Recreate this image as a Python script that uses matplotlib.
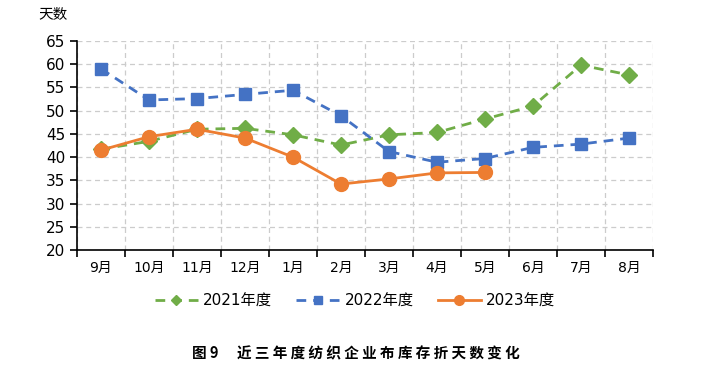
import matplotlib.pyplot as plt

plt.rcParams['font.family'] = ['DejaVu Sans', 'Noto Sans CJK SC']

months = ['9月', '10月', '11月', '12月', '1月', '2月', '3月', '4月', '5月', '6月', '7月', '8月']
y2021 = [41.7, 43.4, 46.0, 46.2, 44.8, 42.6, 44.8, 45.3, 48.2, 51.0, 59.8, 57.7]
y2022 = [59.0, 52.3, 52.6, 53.5, 54.4, 48.9, 41.2, 38.9, 39.7, 42.1, 42.8, 44.1]
y2023 = [41.5, 44.4, 46.0, 44.1, 40.0, 34.2, 35.3, 36.6, 36.7]
caption_head = '图 9'
caption_body = '近三年度纺织企业布库存折天数变化'

fig = plt.figure(figsize=(7.07, 3.76), dpi=100)
ax = fig.add_axes([77 / 707, 1 - 250 / 376, (653 - 77) / 707, (250 - 41) / 376])

x = list(range(len(months)))
ax.plot(x, y2021, color='#70AD47', linestyle=(0, (3.5, 2.5)), linewidth=2,
        marker='D', markersize=8, label='2021年度', zorder=3)
ax.plot(x, y2022, color='#4472C4', linestyle=(0, (3.5, 2.5)), linewidth=2,
        marker='s', markersize=8.5, label='2022年度', zorder=3)
ax.plot(x[:len(y2023)], y2023, color='#ED7D31', linewidth=2,
        marker='o', markersize=10, label='2023年度', zorder=4)

ax.set_xlim(-0.5, 11.5)
ax.set_ylim(20, 65)
ax.set_yticks(range(20, 66, 5))
ax.set_xticks(x)
ax.set_xticklabels(months)
ax.set_xticks([i - 0.5 for i in range(13)], minor=True)
ax.tick_params(axis='x', which='major', length=0, pad=8, labelsize=10)
ax.tick_params(axis='x', which='minor', length=5, width=1.2, direction='out')
ax.tick_params(axis='y', length=5, width=1.2, labelsize=11)
ax.grid(True, axis='y', color='#cccccc', linestyle=(0, (4, 3)), linewidth=0.9)
ax.grid(True, axis='x', which='minor', color='#cccccc', linestyle=(0, (4, 3)), linewidth=0.9)
for s in ['top', 'right']:
    ax.spines[s].set_visible(False)
ax.spines['left'].set_linewidth(1.2)
ax.spines['bottom'].set_linewidth(1.2)

fig.text(38 / 707, 1 - 15 / 376, '天数', fontsize=10.5, ha='left', va='center')

fig.legend(loc='center', bbox_to_anchor=(355 / 707, 1 - 301 / 376), ncol=3, frameon=False,
           fontsize=11, handlelength=2.8, columnspacing=1.6, handletextpad=0.35,
           markerscale=0.7)

# caption, letters spread out as in the original
cy = 1 - 358 / 376
fig.text(192 / 707, cy, caption_head, fontsize=10.5, fontweight='bold',
         ha='left', va='baseline', family=['Noto Sans CJK SC'])
fig.text(237 / 707, cy, ' '.join(caption_body), fontsize=10.5, fontweight='bold',
         ha='left', va='baseline', family=['Noto Sans CJK SC'])

fig.savefig('out.png', dpi=100)
